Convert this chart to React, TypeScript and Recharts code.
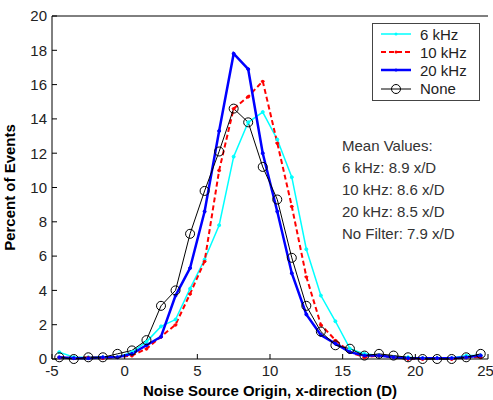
import { LineChart, Line, XAxis, YAxis } from 'recharts'

// bin centres, x/D
const binCenters = [
  -4.5, -3.5, -2.5, -1.5, -0.5, 0.5, 1.5, 2.5, 3.5, 4.5, 5.5, 6.5, 7.5, 8.5, 9.5,
  10.5, 11.5, 12.5, 13.5, 14.5, 15.5, 16.5, 17.5, 18.5, 19.5, 20.5, 21.5, 22.5, 23.5, 24.5,
]

// percent of events per bin
const khz6 = [
  0.4, 0.1, 0.1, 0.1, 0.1, 0.4, 1.0, 1.9, 2.3, 4.1, 5.8, 7.8, 11.8, 13.8, 14.4,
  12.8, 10.6, 6.4, 3.7, 2.2, 0.6, 0.3, 0.2, 0.1, 0.1, 0.05, 0.05, 0.05, 0.2, 0.2,
]
const khz10 = [
  0.1, 0.05, 0.1, 0.05, 0.1, 0.2, 0.6, 1.3, 2.0, 3.8, 5.7, 11.0, 14.6, 15.3, 16.2,
  12.6, 8.9, 4.8, 2.0, 1.1, 0.4, 0.1, 0.2, 0.1, 0.0, 0.0, 0.05, 0.0, 0.1, 0.1,
]
const khz20 = [
  0.1, 0.05, 0.05, 0.1, 0.1, 0.3, 0.8, 1.3, 3.7, 5.3, 8.6, 13.3, 17.8, 16.9, 12.0,
  8.6, 5.0, 2.6, 1.4, 0.9, 0.4, 0.2, 0.2, 0.1, 0.05, 0.05, 0.05, 0.05, 0.1, 0.2,
]
const noFilter = [
  0.1, 0.0, 0.1, 0.1, 0.3, 0.5, 1.1, 3.1, 4.0, 7.3, 9.8, 12.1, 14.6, 13.8, 11.2,
  9.3, 5.9, 3.1, 1.6, 0.8, 0.6, 0.2, 0.3, 0.2, 0.1, 0.0, 0.0, 0.0, 0.1, 0.3,
]

const xTicks = [-5, 0, 5, 10, 15, 20, 25]
const yTicks = [0, 2, 4, 6, 8, 10, 12, 14, 16, 18, 20]

const meanLines = [
  'Mean Values:',
  '6 kHz: 8.9 x/D',
  '10 kHz: 8.6 x/D',
  '20 kHz: 8.5 x/D',
  'No Filter: 7.9 x/D',
]

const series = [
  { key: 'k6', name: '6 kHz', color: '#00ffff', width: 1.5, dash: undefined, circle: false },
  { key: 'k10', name: '10 kHz', color: '#ff0000', width: 2, dash: '5 3', circle: false },
  { key: 'k20', name: '20 kHz', color: '#0000ff', width: 2.5, dash: undefined, circle: false },
  { key: 'none', name: 'None', color: '#000000', width: 1, dash: undefined, circle: true },
]

const data = binCenters.map((x, i) => ({
  x,
  k6: khz6[i],
  k10: khz10[i],
  k20: khz20[i],
  none: noFilter[i],
}))

const FONT = 'Arial, "Liberation Sans", sans-serif'
const tickStyle = { fontSize: 15, fill: '#222', fontFamily: FONT }
const labelStyle = { fontSize: 15, fontWeight: 'bold', fill: '#000', fontFamily: FONT }

// MATLAB-style legend box, drawn as an overlay so it does not eat plot space
function LegendBox() {
  return (
    <div
      style={{
        position: 'absolute', left: 372, top: 23, width: 106, height: 75,
        border: '1px solid #444', background: '#fff', paddingTop: 1,
        fontFamily: FONT, fontSize: 15, color: '#222',
      }}
    >
      {series.map((s) => (
        <div key={s.key} style={{ display: 'flex', alignItems: 'center', height: 18.2 }}>
          <svg width={47} height={12}>
            <line x1={8} x2={38} y1={6} y2={6} stroke={s.color} strokeWidth={s.width} strokeDasharray={s.dash} />
            {s.circle ? (
              <circle cx={23} cy={6} r={4.5} fill="none" stroke={s.color} />
            ) : (
              <circle cx={23} cy={6} r={1.5} fill={s.color} />
            )}
          </svg>
          <span>{s.name}</span>
        </div>
      ))}
    </div>
  )
}

export default function App() {
  return (
    <div style={{ position: 'absolute', left: 0, top: 0, width: 493, height: 400, background: '#fff' }}>
      <LineChart width={493} height={400} data={data} margin={{ top: 0, right: 5, bottom: 16, left: 0 }}>
        <XAxis
          xAxisId="b"
          dataKey="x"
          type="number"
          domain={[-5, 25]}
          ticks={xTicks}
          height={25}
          tickSize={-5}
          tickMargin={11}
          stroke="#000"
          tick={tickStyle}
          label={{ value: 'Noise Source Origin, x-direction (D)', position: 'insideBottom', offset: -12, style: labelStyle }}
        />
        <XAxis xAxisId="t" dataKey="x" type="number" orientation="top" domain={[-5, 25]} ticks={xTicks} height={16} tickSize={-5} tick={false} stroke="#000" />
        <YAxis
          yAxisId="l"
          domain={[0, 20]}
          ticks={yTicks}
          width={52}
          tickSize={-5}
          tickMargin={10}
          stroke="#000"
          tick={tickStyle}
          label={{ value: 'Percent of Events', angle: -90, position: 'insideLeft', offset: 10, style: { ...labelStyle, textAnchor: 'middle' } }}
        />
        <YAxis yAxisId="r" orientation="right" domain={[0, 20]} ticks={yTicks} width={0} tickSize={-5} tick={false} stroke="#000" />
        {series.map((s) => (
          <Line
            key={s.key}
            xAxisId="b"
            yAxisId="l"
            dataKey={s.key}
            name={s.name}
            stroke={s.color}
            strokeWidth={s.width}
            strokeDasharray={s.dash}
            dot={s.circle ? { r: 4.5, fill: 'none', stroke: s.color, strokeWidth: 1 } : { r: 1.5, fill: s.color, stroke: s.color, strokeWidth: 1 }}
            activeDot={false}
            isAnimationActive={false}
          />
        ))}
      </LineChart>
      <LegendBox />
      <div style={{ position: 'absolute', left: 342, top: 135, fontFamily: FONT, fontSize: 15, color: '#333', lineHeight: '22px' }}>
        {meanLines.map((t) => (
          <div key={t}>{t}</div>
        ))}
      </div>
    </div>
  )
}
